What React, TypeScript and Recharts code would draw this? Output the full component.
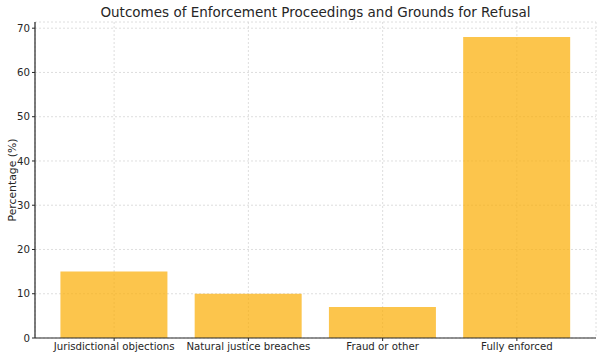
import React from "react";
import { BarChart, Bar, XAxis, YAxis, CartesianGrid } from "recharts";

const categories = ["Jurisdictional objections", "Natural justice breaches", "Fraud or other", "Fully enforced"];
const percentages = [15, 10, 7, 68];
const yTicks = [0, 10, 20, 30, 40, 50, 60, 70];

const data = categories.map((c, i) => ({ name: c, value: percentages[i] }));

const FONT = "DejaVu Sans, sans-serif";

export default function App() {
  return (
    <div style={{ position: "absolute", left: 0, top: 0, width: 600, height: 358, background: "#fff", fontFamily: FONT }}>
      <div style={{ position: "absolute", left: 35, width: 561, top: 3, textAlign: "center", fontSize: 13.5, lineHeight: "18px", color: "#262626" }}>
        Outcomes of Enforcement Proceedings and Grounds for Refusal
      </div>
      <div
        style={{
          position: "absolute",
          left: 12,
          top: 180,
          transform: "translate(-50%, -50%) rotate(-90deg)",
          whiteSpace: "nowrap",
          fontSize: 10.8,
          color: "#262626",
        }}
      >
        Percentage (%)
      </div>
      <BarChart
        width={600}
        height={358}
        data={data}
        margin={{ top: 22, right: 4, bottom: 0, left: 0 }}
        barCategoryGap="10%"
      >
        <CartesianGrid stroke="#d6d6d6" strokeDasharray="2 2" strokeWidth={0.8} />
        <XAxis
          dataKey="name"
          height={20}
          padding={{ left: 12, right: 12 }}
          tick={{ fontSize: 10.2, fill: "#262626", fontFamily: FONT }}
          tickSize={3}
          tickMargin={2}
          axisLine={{ stroke: "#262626", strokeWidth: 1.2 }}
          tickLine={{ stroke: "#262626" }}
          interval={0}
        />
        <YAxis
          width={35}
          domain={[0, 71.4]}
          ticks={yTicks}
          allowDataOverflow
          tick={{ fontSize: 10.2, fill: "#262626", fontFamily: FONT }}
          tickSize={3}
          tickMargin={2}
          axisLine={{ stroke: "#262626", strokeWidth: 1.2 }}
          tickLine={{ stroke: "#262626" }}
        />
        <Bar dataKey="value" fill="#FBAC00" fillOpacity={0.7} isAnimationActive={false} />
      </BarChart>
    </div>
  );
}
